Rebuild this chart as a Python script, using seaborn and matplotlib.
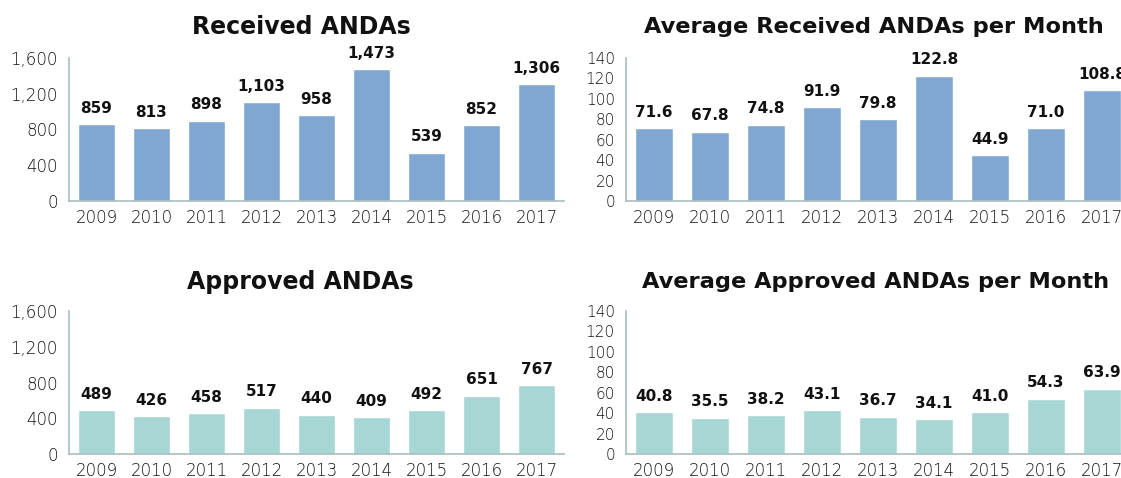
import matplotlib
matplotlib.use('Agg')
import matplotlib.pyplot as plt
import seaborn as sns
import pandas as pd
import numpy as np
from matplotlib.ticker import FuncFormatter

# 数据准备
years = ['2009', '2010', '2011', '2012', '2013', '2014', '2015', '2016', '2017']
received = [859, 813, 898, 1103, 958, 1473, 539, 852, 1306]
received_month = [71.6, 67.8, 74.8, 91.9, 79.8, 122.8, 44.9, 71.0, 108.8]
approved = [489, 426, 458, 517, 440, 409, 492, 651, 767]
approved_month = [40.8, 35.5, 38.2, 43.1, 36.7, 34.1, 41.0, 54.3, 63.9]

titles = ['Received ANDAs', 'Average Received ANDAs per Month',
          'Approved ANDAs', 'Average Approved ANDAs per Month']

blue = '#7fa7d1'
teal = '#a6d7d4'
spine_col = '#a9bdbd'

sns.set_style('white')
plt.rcParams['font.family'] = ['DejaVu Sans']

W, H = 1121, 478
fig = plt.figure(figsize=(W / 100, H / 100), dpi=100)


def px_axes(x0, x1, y_top, y_bot):
    return fig.add_axes([x0 / W, (H - y_bot) / H, (x1 - x0) / W, (y_bot - y_top) / H])


panels = [
    # (data, colour, ylim, yticks, tick fmt, label fmt, axes box, title x, title y, ytick size, title size)
    (received, blue, 1600, np.arange(0, 1601, 400), '{:,.0f}', '{:,.0f}', (69, 564, 58, 201), 301, 27, 12, 17),
    (received_month, blue, 140, np.arange(0, 141, 20), '{:.0f}', '{:.1f}', (626, 1130, 58, 201), 874, 27, 11, 16.2),
    (approved, teal, 1600, np.arange(0, 1601, 400), '{:,.0f}', '{:,.0f}', (69, 564, 311, 454), 300, 282, 12, 17),
    (approved_month, teal, 140, np.arange(0, 141, 20), '{:.0f}', '{:.1f}', (626, 1130, 311, 454), 876, 282, 11, 16.2),
]

for (vals, col, ymax, yt, tfmt, lfmt, box, tx, ty, ysz, tsz), title in zip(panels, titles):
    ax = px_axes(*box)
    df = pd.DataFrame({'Year': years, 'Value': vals})
    sns.barplot(data=df, x='Year', y='Value', color=col, width=0.67,
                saturation=1, ax=ax)

    ax.set_xlim(-0.5, len(years) - 0.5)
    ax.set_ylim(0, ymax)
    ax.set_yticks(yt)
    ax.yaxis.set_major_formatter(FuncFormatter(lambda v, p, f=tfmt: f.format(v)))
    ax.set_xlabel('')
    ax.set_ylabel('')

    # 类别分隔刻度
    ax.set_xticks(np.arange(-0.5, len(years)), minor=True)
    ax.tick_params(axis='x', which='major', length=0, pad=6, labelsize=12, labelcolor='#111111')
    ax.tick_params(axis='x', which='minor', length=5, width=1, color=spine_col, direction='out')
    ax.tick_params(axis='y', length=5, width=1, color=spine_col, direction='out',
                   labelsize=ysz, labelcolor='#111111', pad=3)
    for lab in ax.get_xticklabels() + ax.get_yticklabels():
        lab.set_fontweight('light')

    for side in ['top', 'right']:
        ax.spines[side].set_visible(False)
    for side in ['left', 'bottom']:
        ax.spines[side].set_color(spine_col)
        ax.spines[side].set_linewidth(1.2)

    # 数据标签
    for i, v in enumerate(vals):
        ax.annotate(lfmt.format(v), (i, v), xytext=(0, 6), textcoords='offset points',
                    ha='center', va='bottom', fontsize=11, fontweight='bold',
                    color='#111111', annotation_clip=False)

    fig.text(tx / W, (H - ty) / H, title, ha='center', va='center',
             fontsize=tsz, fontweight='bold', color='#111111')

fig.savefig('out.png', dpi=100)
